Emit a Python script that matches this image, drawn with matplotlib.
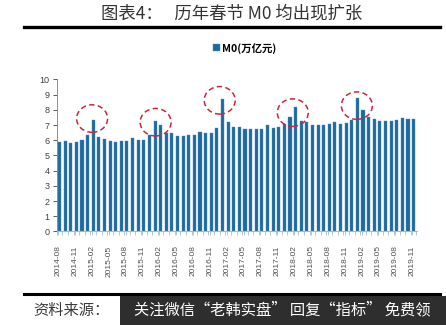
import matplotlib
matplotlib.use("Agg")
import matplotlib.pyplot as plt
from matplotlib.patches import Ellipse, Rectangle
from matplotlib.lines import Line2D
import pandas as pd

plt.rcParams['font.family'] = ['Noto Sans CJK SC', 'DejaVu Sans']

# monthly M0 balance, trillion yuan, 2014-08 .. 2019-11
months = pd.period_range('2014-08', '2019-11', freq='M').strftime('%Y-%m').tolist()
m0 = [5.91, 5.93, 5.84, 5.89, 6.04,
      6.35, 7.31, 6.21, 6.06, 5.93, 5.86, 5.93, 5.95, 6.13, 6.02, 6.02, 6.32,
      7.29, 6.98, 6.46, 6.46, 6.30, 6.30, 6.35, 6.37, 6.52, 6.46, 6.50, 6.83,
      8.71, 7.20, 6.87, 6.87, 6.74, 6.74, 6.74, 6.76, 6.98, 6.83, 6.87, 7.07,
      7.51, 8.18, 7.29, 7.20, 7.02, 6.98, 7.00, 7.05, 7.18, 7.05, 7.11, 7.33,
      8.77, 7.99, 7.55, 7.42, 7.29, 7.29, 7.29, 7.33, 7.44, 7.42, 7.42]

# spring festival peaks to circle: (bar position, centre value)
peaks_x = [5.8, 17.1, 28.5, 41.5, 52.9]
peaks_y = [7.43, 7.19, 8.63, 7.82, 8.28]

fig = plt.figure(figsize=(4.46, 3.25), dpi=100)
ax = fig.add_axes([0.1271, 0.2877, 0.8085, 0.4677])

x = list(range(len(m0)))
bars = ax.bar(x, m0, width=0.55, color='#1F6A9C', edgecolor='#4F8FC4',
              linewidth=0.3, label='M0(万亿元)')

for px, py in zip(peaks_x, peaks_y):
    ax.add_patch(Ellipse((px, py), 5.5, 1.81, fill=False, edgecolor='#C8283C',
                         linewidth=1.1, linestyle=(0, (3.5, 2.2)), zorder=5))

ax.set_xlim(-0.4, 63.65)
ax.set_ylim(0, 10)
ax.set_yticks(range(0, 11))
ax.tick_params(axis='y', labelsize=6.5, colors='#404040', length=3, width=0.6,
               direction='out', pad=2)
for lbl in ax.get_yticklabels():
    lbl.set_family(['Liberation Sans', 'DejaVu Sans'])

tick_pos = [i - 0.25 for i in x[::3]]
ax.set_xticks(tick_pos)
ax.set_xticklabels(months[::3], rotation=90, fontsize=6, color='#505050',
                   family=['Liberation Sans', 'DejaVu Sans'])
ax.set_xticks([i - 0.5 for i in x] + [63.5], minor=True)
ax.tick_params(axis='x', which='major', length=3, width=0.5, color='#8FAFCF', pad=7)
ax.tick_params(axis='x', which='minor', length=3, width=0.5, color='#8FAFCF')

for side in ['top', 'right']:
    ax.spines[side].set_visible(False)
ax.spines['left'].set_color('#8C8C8C')
ax.spines['left'].set_linewidth(0.7)
ax.spines['bottom'].set_color('#9FB8D0')
ax.spines['bottom'].set_linewidth(0.7)

leg = fig.legend(handles=[bars], labels=['M0(万亿元)'], loc='center',
                 bbox_to_anchor=(0.549, 0.852), frameon=False, handlelength=0.7,
                 handleheight=0.7, handletextpad=0.2,
                 prop={'size': 7.5, 'weight': 'bold'})

# header
fig.text(0.52, 0.958, '图表4：   历年春节 M0 均出现扩张', ha='center', va='center',
         fontsize=12.5, color='#333333')
fig.add_artist(Line2D([0.054, 0.987], [0.918, 0.918], color='black', linewidth=2.4))

# footer
fig.add_artist(Line2D([0.054, 0.987], [0.095, 0.095], color='black', linewidth=2.2))
fig.text(0.074, 0.046, '资料来源：', ha='left', va='center', fontsize=11,
         color='#3A3A3A', style='italic')
fig.add_artist(Rectangle((0.269, 0.0), 0.731, 0.089, transform=fig.transFigure,
                         facecolor='#2E2E2E', edgecolor='none'))
fig.text(0.633, 0.046, '关注微信“老韩实盘” 回复“指标” 免费领', ha='center',
         va='center', fontsize=11, color='white')

fig.savefig('out.png', dpi=100)
